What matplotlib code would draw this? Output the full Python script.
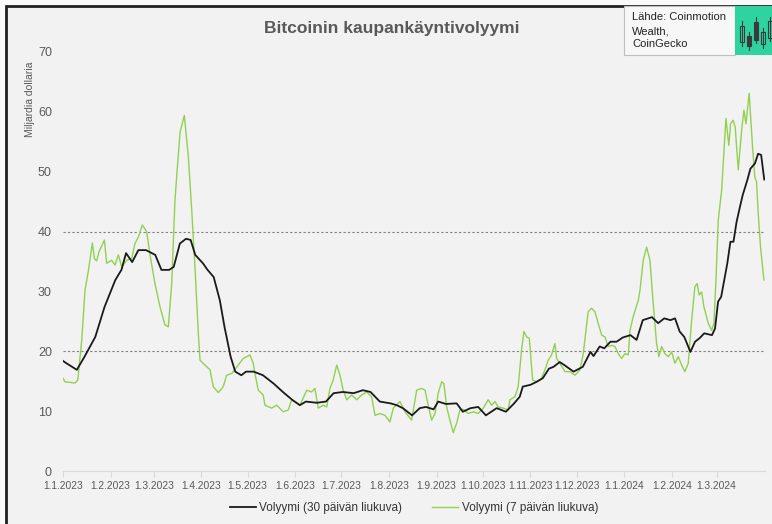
import numpy as np
import pandas as pd
import matplotlib
matplotlib.use("Agg")
import matplotlib.pyplot as plt
from matplotlib.patches import Rectangle

plt.rcParams["font.family"] = ["Liberation Sans", "DejaVu Sans"]

# Päivät laskettuna 1.1.2023 alkaen, arvot miljardia dollaria
start = pd.Timestamp("2023-01-01")

ma30_days = [0, 1, 9, 14, 21, 27, 34, 38, 41, 45, 49, 54, 60, 64, 69, 72, 76, 80, 83, 86,
             91, 94, 98, 102, 105, 109, 112, 116, 119, 124, 130, 137, 143, 149, 154, 158,
             165, 171, 176, 182, 189, 195, 200, 206, 213, 217, 221, 227, 232, 236, 241,
             244, 249, 256, 260, 265, 270, 275, 282, 288, 293, 297, 299, 304, 308, 312,
             316, 319, 323, 326, 332, 338, 343, 345, 349, 352, 356, 360, 364, 369, 373,
             377, 383, 387, 391, 395, 398, 401, 404, 408, 411, 414, 417, 422, 424, 426,
             428, 432, 434, 436, 438, 440, 442, 445, 447, 450, 452, 454, 456]
ma30_vals = [18.4, 18.2, 16.9, 19.1, 22.4, 27.4, 31.9, 33.6, 36.4, 34.9, 36.9, 36.9, 36.1,
             33.6, 33.6, 34.1, 38.0, 38.8, 38.6, 36.1, 34.7, 33.6, 32.4, 28.5, 24.1, 19.1,
             16.6, 16.0, 16.6, 16.6, 16.0, 14.6, 13.2, 11.9, 11.0, 11.6, 11.4, 11.6, 13.0,
             13.2, 13.0, 13.5, 13.2, 11.6, 11.3, 11.0, 10.5, 9.3, 10.5, 10.7, 10.3, 11.6,
             11.2, 11.3, 9.9, 10.5, 10.7, 9.3, 10.5, 9.9, 11.2, 12.4, 14.1, 14.4, 14.9,
             15.5, 17.1, 17.4, 18.2, 17.7, 16.6, 17.4, 19.9, 19.2, 20.8, 20.5, 21.6, 21.6,
             22.3, 22.7, 21.9, 25.2, 25.7, 24.7, 25.5, 25.2, 25.5, 23.3, 22.4, 19.9, 21.6,
             22.2, 23.0, 22.7, 23.8, 28.3, 29.1, 34.7, 38.3, 38.3, 41.6, 43.9, 46.1, 48.6,
             50.5, 51.4, 53.0, 52.8, 48.7]

ma7_days = [0, 1.3, 7.8, 9.6, 12.2, 14.3, 16.4, 19.1, 20.4, 21.9, 23.4, 26.9, 28.4, 31.7,
            33.8, 36.0, 38.2, 41.4, 44.7, 46.8, 49.0, 51.6, 54.4, 56.6, 59.8, 63.1, 66.3,
            68.5, 70.7, 72.8, 73.9, 76.1, 78.9, 81.5, 83.7, 85.8, 88.0, 89.1, 92.3, 95.6,
            97.7, 101.0, 104.2, 106.4, 109.7, 114.0, 117.2, 119.4, 121.6, 123.7, 124.8,
            127.0, 130.2, 131.3, 135.7, 138.9, 143.2, 146.5, 148.7, 154.1, 158.5, 161.7,
            163.8, 166.0, 169.2, 171.5, 173.6, 175.7, 178.0, 180.1, 182.2, 184.5, 187.7,
            191.0, 194.2, 197.5, 200.7, 202.9, 206.1, 209.4, 212.6, 214.8, 219.1, 222.4,
            226.7, 230.0, 233.2, 235.4, 237.5, 239.7, 241.9, 244.0, 246.2, 247.7, 249.5,
            251.6, 253.8, 256.0, 258.1, 260.3, 263.5, 266.8, 270.0, 273.3, 276.5, 278.7,
            280.9, 283.0, 286.3, 289.5, 290.6, 293.9, 296.0, 298.2, 299.7, 301.5, 303.2,
            305.4, 308.0, 311.2, 313.4, 315.5, 317.7, 319.9, 321.0, 323.1, 326.4, 329.6,
            332.9, 336.2, 338.3, 341.5, 343.7, 345.9, 348.0, 350.3, 352.4, 354.6, 356.8,
            358.9, 361.1, 363.3, 365.4, 367.6, 368.7, 370.8, 374.1, 375.2, 377.3, 379.5,
            381.7, 383.8, 386.0, 387.5, 389.3, 391.4, 393.6, 395.8, 397.9, 400.1, 402.3,
            404.4, 406.6, 408.8, 410.9, 412.4, 413.7, 415.3, 416.8, 419.6, 421.8, 423.3,
            424.6, 426.1, 428.3, 431.1, 433.0, 434.1, 435.8, 437.1, 439.1, 441.3, 442.8,
            444.1, 446.2, 448.4, 449.9, 451.0, 452.1, 453.6, 455.8]
ma7_vals = [15.5, 14.9, 14.7, 15.2, 21.9, 30.2, 33.3, 38.1, 35.5, 35.1, 36.6, 38.6, 34.7,
            35.2, 34.4, 36.1, 34.1, 35.2, 35.5, 38.0, 39.1, 41.1, 40.0, 36.1, 31.3, 27.4,
            24.4, 24.1, 31.3, 45.2, 49.1, 56.6, 59.4, 52.5, 43.6, 34.1, 23.0, 18.5, 17.7,
            16.9, 14.1, 13.1, 14.1, 16.0, 16.3, 17.7, 18.8, 19.1, 19.4, 18.0, 16.3, 13.5,
            12.7, 11.0, 10.5, 11.0, 9.9, 10.2, 11.9, 11.0, 13.5, 13.2, 13.8, 10.5, 11.0,
            10.7, 13.8, 15.2, 17.7, 16.0, 13.5, 11.9, 12.7, 11.9, 12.7, 13.2, 12.4, 9.3,
            9.6, 9.3, 8.2, 10.5, 11.6, 9.9, 8.5, 13.5, 13.8, 13.5, 11.0, 8.5, 9.6, 13.0,
            14.9, 14.6, 10.7, 8.5, 6.4, 8.0, 10.2, 10.3, 9.6, 9.9, 9.6, 10.5, 11.9, 11.0,
            11.6, 10.7, 10.5, 10.2, 11.9, 12.4, 14.1, 20.2, 23.3, 22.4, 22.2, 15.2, 14.9,
            15.5, 16.9, 18.5, 19.4, 21.3, 18.8, 18.0, 16.6, 16.6, 16.0, 16.9, 19.6, 26.6,
            27.2, 26.6, 24.7, 22.7, 22.4, 20.8, 21.0, 20.8, 19.6, 18.8, 19.6, 19.4, 23.5,
            25.8, 28.5, 30.2, 35.2, 37.4, 35.2, 28.0, 21.3, 19.1, 20.8, 19.6, 19.1, 19.9,
            18.0, 19.1, 17.7, 16.6, 18.0, 25.2, 30.8, 31.3, 29.4, 29.9, 27.4, 24.7, 23.5,
            24.7, 31.9, 41.9, 46.9, 58.9, 54.4, 58.0, 58.6, 57.5, 50.3, 56.9, 60.3, 58.0,
            63.1, 54.1, 49.1, 48.3, 43.0, 37.4, 31.9]

tick_dates = ["2023-01-01", "2023-02-01", "2023-03-01", "2023-04-01", "2023-05-01",
              "2023-06-01", "2023-07-01", "2023-08-01", "2023-09-01", "2023-10-01",
              "2023-11-01", "2023-12-01", "2024-01-01", "2024-02-01", "2024-03-01"]
tick_labels = ["1.1.2023", "1.2.2023", "1.3.2023", "1.4.2023", "1.5.2023", "1.6.2023",
               "1.7.2023", "1.8.2023", "1.9.2023", "1.10.2023", "1.11.2023", "1.12.2023",
               "1.1.2024", "1.2.2024", "1.3.2024"]

x30 = start + pd.to_timedelta(ma30_days, unit="D")
x7 = start + pd.to_timedelta(ma7_days, unit="D")

bg = "#f2f2f2"
txt = "#595959"

fig = plt.figure(figsize=(7.72, 5.24), dpi=100)
fig.patch.set_facecolor("#fafafa")

# kehys
frame = Rectangle((6 / 772, -0.05), 1.1, 1 - 6 / 524 + 0.05, transform=fig.transFigure,
                  facecolor=bg, edgecolor="#222222", linewidth=2, zorder=-10)
fig.patches.append(frame)

ax = fig.add_axes([63 / 772, 1 - 471 / 524, (765 - 63) / 772, (471 - 52) / 524])
ax.set_facecolor(bg)

ax.plot(x30, ma30_vals, color="#1a1a1a", lw=1.3, label="Volyymi (30 päivän liukuva)", zorder=3)
ax.plot(x7, ma7_vals, color="#92d050", lw=1.0, label="Volyymi (7 päivän liukuva)", zorder=2)

for yv in [20, 40]:
    ax.axhline(yv, color="#7f7f7f", lw=0.8, linestyle=(0, (2, 2)), zorder=1)

ax.set_ylim(0, 70)
ax.set_yticks(range(0, 71, 10))
ax.set_xlim(start, start + pd.Timedelta(days=456.5))
ax.set_xticks(pd.to_datetime(tick_dates))
ax.set_xticklabels(tick_labels)

for s in ["top", "right", "left"]:
    ax.spines[s].set_visible(False)
ax.spines["bottom"].set_color("#d9d9d9")
ax.tick_params(axis="y", length=0, pad=8, labelsize=9, labelcolor=txt)
ax.tick_params(axis="x", length=4, color="#d9d9d9", pad=3, labelsize=7.4, labelcolor=txt)

fig.text(30 / 772, 1 - 99 / 524, "Miljardia dollaria", rotation=90, ha="center",
         va="center", fontsize=7.5, color=txt)
fig.text(392 / 772, 1 - 29 / 524, "Bitcoinin kaupankäyntivolyymi", ha="center",
         va="center", fontsize=12.5, fontweight="bold", color=txt)

ax.legend(loc="center", bbox_to_anchor=(0.5, -0.088), ncol=2, frameon=False,
          fontsize=8.5, handlelength=2.2, handletextpad=0.3, columnspacing=2.5,
          labelcolor="#333333")

# lähdelaatikko
box = Rectangle((624 / 772, 1 - 55 / 524), 111 / 772, 49 / 524, transform=fig.transFigure,
                facecolor="#f7f7f7", edgecolor="#bfbfbf", linewidth=0.8)
fig.patches.append(box)
for line_txt, ly in [("Lähde: Coinmotion", 17), ("Wealth,", 31), ("CoinGecko", 44)]:
    fig.text(632 / 772, 1 - ly / 524, line_txt, ha="left", va="center",
             fontsize=8, color="#222222")
green = Rectangle((735 / 772, 1 - 55 / 524), 40 / 772, 49 / 524, transform=fig.transFigure,
                  facecolor="#2ed3a0", edgecolor="none")
fig.patches.append(green)
# kynttiläkuvio
candles = [(742, 26, 42, 21, 46, False), (749, 36, 46, 32, 50, True),
           (756, 22, 40, 17, 43, True), (763, 32, 44, 28, 48, False), (770, 21, 38, 17, 41, False)]
for cx, top, bot, wt, wb, filled in candles:
    fig.lines.append(plt.Line2D([cx / 772, cx / 772], [1 - wt / 524, 1 - wb / 524],
                                transform=fig.transFigure, color="#3a3a3a", lw=0.8))
    fig.patches.append(Rectangle(((cx - 2) / 772, 1 - bot / 524), 4 / 772, (bot - top) / 524,
                                 transform=fig.transFigure, facecolor="#3a3a3a" if filled else "#2ed3a0",
                                 edgecolor="#3a3a3a", linewidth=0.8))

fig.savefig("out.png", dpi=100, facecolor=fig.get_facecolor())
